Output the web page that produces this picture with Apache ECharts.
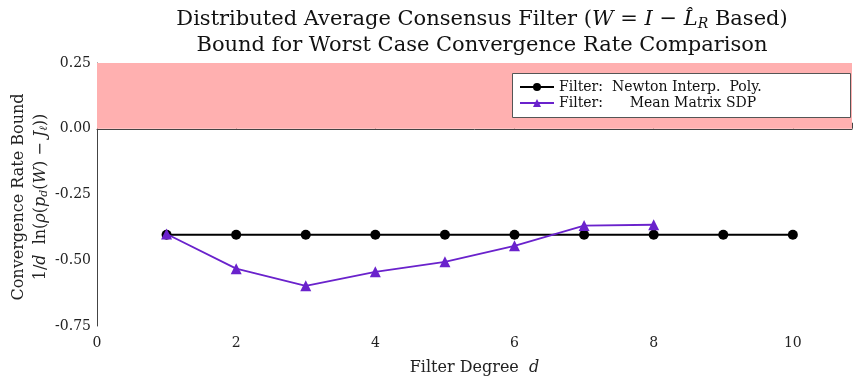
<!DOCTYPE html>
<html><head><meta charset="utf-8">
<script src="https://cdn.jsdelivr.net/npm/echarts@6/dist/echarts.min.js"></script>
<style>html,body{margin:0;padding:0;background:#fff}#c{width:853px;height:383px}</style>
</head><body><div id="c"></div>
<script>
const degrees = [1,2,3,4,5,6,7,8,9,10];
const newtonValues = [-0.403,-0.403,-0.403,-0.403,-0.403,-0.403,-0.403,-0.403,-0.403,-0.403];
const sdpDegrees = [1,2,3,4,5,6,7,8];
const sdpValues = [-0.400,-0.532,-0.597,-0.544,-0.506,-0.445,-0.368,-0.365];
const yTicks = [-0.75,-0.5,-0.25,0,0.25];
const xTicks = [0,2,4,6,8,10];
const stableBand = [0, 0.25];

const F = '"DejaVu Serif", "Liberation Serif", serif';
const titleRich = {
  n: {fontFamily: F, fontSize: 21, fill: '#111', lineHeight: 26},
  i: {fontFamily: F, fontSize: 21, fontStyle: 'italic', fill: '#111', lineHeight: 26},
  s: {fontFamily: F, fontSize: 14, fontStyle: 'italic', fill: '#111', lineHeight: 26, padding:[9,0,0,0]}
};
const ylabRich = {
  n: {fontFamily: F, fontSize: 16, fill: '#222', lineHeight: 22},
  i: {fontFamily: F, fontSize: 16, fontStyle: 'italic', fill: '#222', lineHeight: 22},
  s: {fontFamily: F, fontSize: 11, fontStyle: 'italic', fill: '#222', lineHeight: 22, padding: [6,0,0,0]}
};
const chart = echarts.init(document.getElementById('c'));
chart.setOption({
  animation: false,
  backgroundColor: '#fff',
  grid: {left: 97, right: 1, top: 63, bottom: 57, outerBoundsMode: 'none', containLabel: false},
  graphic: [{
    type: 'text', x: 482, y: 7, z: 20,
    style: {
      text: '{n|Distributed Average Consensus Filter (}{i|W}{n| = }{i|I}{n| − }{i|L̂}{s|R}{n| Based)}\n{n|Bound for Worst Case Convergence Rate Comparison}',
      rich: titleRich, align: 'center', verticalAlign: 'top', fontFamily: F, fontSize: 21, fill: '#111'
    }
  }, {
    type: 'text', x: 30, y: 197, rotation: Math.PI / 2, z: 20,
    style: {
      text: '{n|Convergence Rate Bound}\n{n|1/}{i|d}{n|  ln(}{i|ρ}{n|(}{i|p}{s|d}{n|(}{i|W}{n|) − }{i|J}{s|ℓ}{n|))}',
      rich: ylabRich, align: 'center', verticalAlign: 'middle', fontFamily: F, fontSize: 16, fill: '#222'
    }
  }, {
    type: 'rect', left: 512, top: 73, z: 5,
    shape: {width: 338, height: 44},
    style: {fill: '#fff', stroke: '#555', lineWidth: 1}
  }],
  legend: {
    left: 514, top: 75, orient: 'vertical', itemGap: 2, itemWidth: 34, itemHeight: 10, z: 10,
    textStyle: {fontFamily: F, fontSize: 14, color: '#111'},
    data: ['Filter:  Newton Interp.  Poly.', 'Filter:      Mean Matrix SDP']
  },
  xAxis: {
    type: 'value', min: 0, max: 10.85, interval: 2,
    name: '{n|Filter Degree  }{i|d}', nameLocation: 'middle', nameGap: 34,
    nameTextStyle: {fontFamily: F, fontSize: 16, color: '#222',
      rich: {n: {fontFamily: F, fontSize: 16, color: '#222'}, i: {fontFamily: F, fontSize: 16, fontStyle: 'italic', color: '#222'}}},
    axisLine: {lineStyle: {color: '#444', width: 1}},
    axisTick: {inside: true, length: 6, lineStyle: {color: '#444'}},
    axisLabel: {fontFamily: F, fontSize: 14, color: '#222', margin: 10,
      formatter: v => xTicks.includes(v) ? String(v) : ''},
    splitLine: {show: false}
  },
  yAxis: {
    type: 'value', min: -0.75, max: 0.25, interval: 0.25,
    axisLine: {show: true, lineStyle: {color: '#444', width: 1}},
    axisTick: {show: false},
    axisLabel: {fontFamily: F, fontSize: 14, color: '#222', margin: 6,
      formatter: v => yTicks.includes(+v.toFixed(2)) ? v.toFixed(2) : ''},
    splitLine: {show: false}
  },
  series: [
    {
      name: 'Filter:  Newton Interp.  Poly.', type: 'line',
      data: degrees.map((d, i) => [d, newtonValues[i]]),
      symbol: 'circle', symbolSize: 10,
      lineStyle: {color: '#000', width: 1.8},
      itemStyle: {color: '#000'},
      z: 3,
      markArea: {
        silent: true,
        itemStyle: {color: '#ffb0b0'},
        data: [[{yAxis: stableBand[0]}, {yAxis: stableBand[1]}]]
      }
    },
    {
      name: 'Filter:      Mean Matrix SDP', type: 'line',
      data: sdpDegrees.map((d, i) => [d, sdpValues[i]]),
      symbol: 'triangle', symbolSize: 11,
      lineStyle: {color: '#6a22cc', width: 1.8},
      itemStyle: {color: '#6a22cc'},
      z: 4
    }
  ]
});
</script></body></html>
